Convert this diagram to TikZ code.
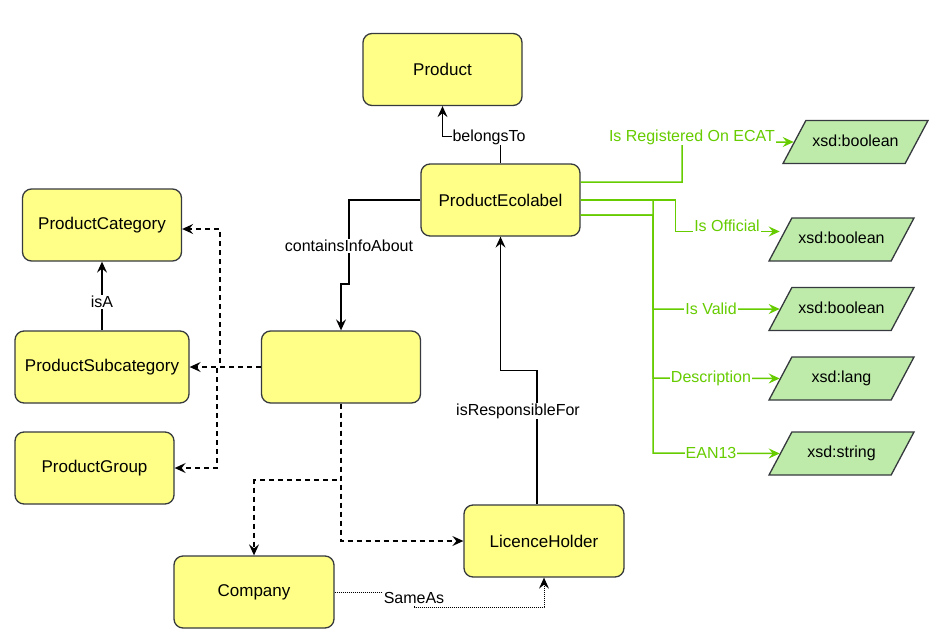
\documentclass[tikz,border=0pt]{standalone}
\usepackage{fontspec}
\setmainfont{Liberation Sans}
\usetikzlibrary{arrows.meta,shapes.geometric}
\definecolor{boxfill}{RGB}{255,255,136}
\definecolor{boxline}{RGB}{54,57,61}
\definecolor{litfill}{RGB}{190,235,170}
\definecolor{litgreen}{RGB}{102,204,0}
\begin{document}
\begin{tikzpicture}[x=1pt,y=-1pt]
\tikzstyle{every node}+=[inner sep=0pt]
\tikzstyle{cls}=[draw=boxline, fill=boxfill, line width=1.3pt, rounded corners=9pt, minimum width=159pt, minimum height=72pt, font=\fontsize{17}{20}\selectfont]
\tikzstyle{lit}=[trapezium, trapezium left angle=62, trapezium right angle=118, trapezium stretches body=true, draw=boxline, fill=litfill, line width=1.3pt, text height=12pt, text depth=3.5pt, inner ysep=13.75pt, minimum width=145pt, font=\fontsize{16}{19}\selectfont]
\tikzstyle{rel}=[draw=black, line width=1.3pt, -{Stealth[length=11pt,width=10pt,inset=4pt]}]
\tikzstyle{opt}=[rel, line width=1.4pt, dash pattern=on 5pt off 4pt]
\tikzstyle{same}=[rel, line width=1pt, dash pattern=on 1pt off 1pt]
\tikzstyle{prop}=[draw=litgreen, line width=1.5pt, -{Stealth[length=11pt,width=10pt,inset=4pt]}]
\tikzstyle{lbl}=[fill=white, inner sep=1pt, font=\fontsize{16}{19}\selectfont]
\tikzstyle{glbl}=[lbl, text=litgreen]
\useasboundingbox (0,0) rectangle (936,634);
\node[cls] (prod) at (442.5,69.5) {Product};
\node[cls] (pe) at (500.5,200) {ProductEcolabel};
\node[cls] (pcat) at (102,225) {ProductCategory};
\node[cls, minimum width=174pt] (psub) at (102,367) {ProductSubcategory};
\node[cls] (pgrp) at (94.5,468) {ProductGroup};
\node[cls] (info) at (341,367) {};
\node[cls, minimum width=160pt] (comp) at (254,592) {Company};
\node[cls, minimum width=160pt] (lh) at (544,541) {LicenceHolder};
\node[lit] (t1) at (855.5,142) {xsd:boolean};
\node[lit] (t2) at (841.5,239.5) {xsd:boolean};
\node[lit] (t3) at (841.5,309) {xsd:boolean};
\node[lit] (t4) at (841.5,378.5) {xsd:lang};
\node[lit] (t5) at (841.5,453.5) {xsd:string};
\draw[rel] (pe.north) -- ++(0,-27) -| (prod.south) node[lbl] at (489,137) {belongsTo};
\draw[rel] (pe.west) -| (349,284) -| (info.north) node[lbl] at (349,246) {containsInfoAbout};
\draw[rel] (psub.north) -- (pcat.south) node[lbl, pos=0.41] {isA};
\draw[rel] ([xshift=-7pt]lh.north) -- ++(0,-134) -| (pe.south) node[lbl] at (518,411) {isResponsibleFor};
\draw[opt] (info.west) -- ++(-41,0) |- ([yshift=-4pt]pcat.east);
\draw[opt] (info.west) -- (psub.east);
\draw[opt] (info.west) -- ++(-44,0) |- (pgrp.east);
\draw[opt] (info.south) -- ++(0,76.5) -| (comp.north);
\draw[opt] (info.south) |- (lh.west);
\draw[same] (comp.east) -- ++(80,0) -- ++(0,15) -| (lh.south) node[lbl] at (414,598) {SameAs};
\draw[prop] ([yshift=18pt]pe.east) -| (682,142) -- (t1.west) node[glbl] at (692,137) {Is Registered On ECAT};
\draw[prop] (pe.east) -- ++(95,0) |- ([yshift=8pt]t2.west) node[glbl] at (727,226) {Is Official};
\draw[prop] (pe.east) -| (653,309) -- (t3.west) node[glbl] at (711,309) {Is Valid};
\draw[prop] ([yshift=-15pt]pe.east) -| (653,378) -- (t4.west) node[glbl] at (711,378) {Description};
\draw[prop] ([yshift=-15pt]pe.east) -| (653,453) -- (t5.west) node[glbl] at (711,453) {EAN13};
\end{tikzpicture}
\end{document}
